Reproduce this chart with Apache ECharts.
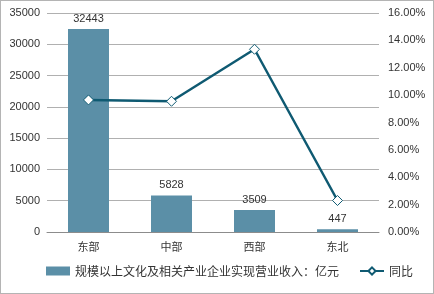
<!DOCTYPE html>
<html><head><meta charset="utf-8">
<script src="https://cdn.jsdelivr.net/npm/echarts@6/dist/echarts.min.js"></script>
<style>html,body{margin:0;padding:0;background:#fff}#c{width:434px;height:294px;box-sizing:border-box;border:1px solid #b4b4b4}</style>
</head><body><div id="c"></div>
<script>
const categories = ['东部','中部','西部','东北'];
const revenue = [32443, 5828, 3509, 447];
const yoy = [9.65, 9.55, 13.35, 2.3];
const barName = '规模以上文化及相关产业企业实现营业收入：亿元';
const lineName = '同比';

const chart = echarts.init(document.getElementById('c'));
const fontFam = 'Liberation Sans, Arial, Noto Sans CJK SC, sans-serif';
chart.setOption({
  animation: false,
  textStyle: {fontFamily: fontFam},
  grid: {left: 46, right: 54, top: 12, bottom: 61},
  legend: {
    bottom: 11, left: 40, itemGap: 20, itemWidth: 24, itemHeight: 9,
    textStyle: {fontSize: 12, color: '#333', fontFamily: 'Noto Sans CJK SC, sans-serif'},
    data: [{name: barName, icon: 'rect'}, {name: lineName}]
  },
  xAxis: {
    type: 'category', data: categories,
    axisLine: {lineStyle: {color: '#8c8c8c'}},
    axisTick: {show: false},
    axisLabel: {color: '#333', fontSize: 11, margin: 9, fontFamily: 'Noto Sans CJK SC, sans-serif'}
  },
  yAxis: [{
    type: 'value', min: 0, max: 35000, interval: 5000,
    axisLine: {show: false}, axisTick: {show: false},
    axisLabel: {color: '#333', fontSize: 11, margin: 7, formatter: v => String(v)},
    splitLine: {lineStyle: {color: '#b0b0b0'}}
  }, {
    type: 'value', min: 0, max: 16, interval: 2,
    axisLine: {show: false}, axisTick: {show: false},
    axisLabel: {color: '#333', fontSize: 11, margin: 9, formatter: v => v.toFixed(2) + '%'},
    splitLine: {show: false}
  }],
  series: [{
    name: barName, type: 'bar', data: revenue, barWidth: 41,
    itemStyle: {color: '#5b8fa7'},
    label: {show: true, position: 'top', color: '#333', fontSize: 11, distance: 5}
  }, {
    name: lineName, type: 'line', yAxisIndex: 1, data: yoy,
    symbol: 'diamond', symbolSize: 10,
    lineStyle: {color: '#0f5a72', width: 2.5},
    itemStyle: {color: '#fff', borderColor: '#0f5a72', borderWidth: 1}
  }]
});
</script></body></html>
